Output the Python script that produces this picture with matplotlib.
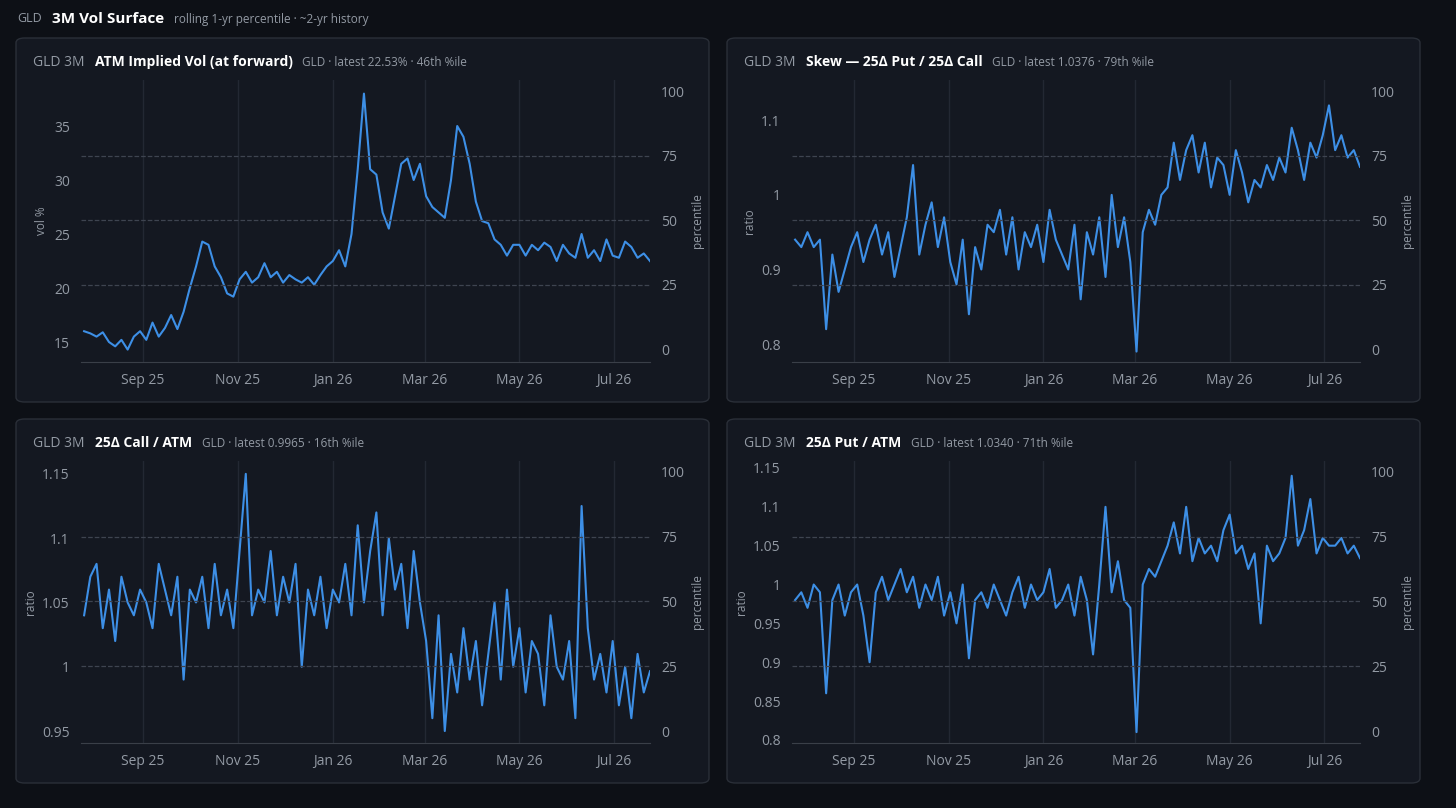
"""GLD 3M vol surface dashboard: four panels (ATM vol, skew, call wing, put wing)
each with a rolling 1-yr percentile scale on the right.
"""
import matplotlib
matplotlib.use("Agg")
import matplotlib.pyplot as plt  # noqa: E402
import matplotlib.dates as mdates  # noqa: E402
import pandas as pd  # noqa: E402
from matplotlib.patches import FancyBboxPatch  # noqa: E402

W, H = 1456, 808
BG = "#0d1016"
PANEL = "#141821"
EDGE = "#2a2f38"
LINE = "#3d8fe6"
TICK = "#939aa4"

START = "2025-07-25"  # 4-day sampling
ATM_VOL = [16, 15.8, 15.5, 15.9, 15, 14.6, 15.2, 14.3, 15.5, 16,
           15.2, 16.8, 15.5, 16.3, 17.5, 16.2, 17.8, 20,
           22, 24.3, 24, 22, 21, 19.5, 19.2, 20.8,
           21.5, 20.5, 21, 22.3, 21, 21.5, 20.5,
           21.2, 20.8, 20.5, 21, 20.3, 21.2, 22,
           22.5, 23.5, 22, 25, 31, 38, 31, 30.5,
           27, 25.5, 28.5, 31.5, 32, 30, 31.5,
           28.5, 27.5, 27, 26.5, 30, 35, 34,
           31.5, 28, 26.2, 26, 24.5, 24, 23, 24,
           24, 23, 24, 23.5, 24.2, 23.8, 22.5, 24,
           23.2, 22.8, 25, 22.8, 23.5, 22.5, 24.5, 23,
           22.8, 24.3, 23.8, 22.8, 23.2, 22.5]
SKEW = [0.94, 0.93, 0.95, 0.93, 0.94, 0.82, 0.92, 0.87, 0.90, 0.93,
        0.95, 0.91, 0.94, 0.96, 0.92, 0.95, 0.89, 0.93,
        0.97, 1.04, 0.92, 0.96, 0.99, 0.93, 0.97, 0.91,
        0.88, 0.94, 0.84, 0.93, 0.90, 0.96, 0.95,
        0.98, 0.92, 0.97, 0.90, 0.95, 0.93, 0.96,
        0.91, 0.98, 0.94, 0.92, 0.90, 0.96, 0.86, 0.95,
        0.92, 0.97, 0.89, 1.00, 0.93, 0.97, 0.91,
        0.79, 0.95, 0.98, 0.96, 1.00, 1.01, 1.07,
        1.02, 1.06, 1.08, 1.03, 1.07, 1.01, 1.05, 1.04,
        1.00, 1.06, 1.03, 0.99, 1.02, 1.01, 1.04, 1.02,
        1.05, 1.03, 1.09, 1.06, 1.02, 1.07, 1.05, 1.08,
        1.12, 1.06, 1.08, 1.05, 1.06, 1.0376]
CALL_ATM = [1.04, 1.07, 1.08, 1.03, 1.06, 1.02, 1.07, 1.05, 1.04, 1.06,
            1.05, 1.03, 1.08, 1.06, 1.04, 1.07, 0.99, 1.06,
            1.05, 1.07, 1.03, 1.08, 1.04, 1.06, 1.03, 1.09,
            1.15, 1.04, 1.06, 1.05, 1.09, 1.04, 1.07,
            1.05, 1.08, 1.00, 1.06, 1.04, 1.07, 1.03,
            1.06, 1.05, 1.08, 1.04, 1.11, 1.05, 1.09, 1.12,
            1.04, 1.10, 1.06, 1.08, 1.03, 1.09, 1.05,
            1.02, 0.96, 1.04, 0.95, 1.01, 0.98, 1.03,
            0.99, 1.02, 0.97, 1.01, 1.05, 0.99, 1.06, 1.00,
            1.03, 0.98, 1.02, 1.01, 0.97, 1.04, 1.00, 0.99,
            1.02, 0.96, 1.125, 1.03, 0.99, 1.01, 0.98, 1.02,
            0.97, 1.00, 0.96, 1.01, 0.98, 0.9965]
PUT_ATM = [0.98, 0.99, 0.97, 1.00, 0.99, 0.86, 0.98, 1.00, 0.96, 0.99,
           1.00, 0.96, 0.90, 0.99, 1.01, 0.98, 1.00, 1.02,
           0.99, 1.01, 0.97, 1.00, 0.98, 1.01, 0.96, 0.99,
           0.95, 1.00, 0.905, 0.98, 0.99, 0.97, 1.00,
           0.98, 0.96, 0.99, 1.01, 0.97, 1.00, 0.98,
           0.99, 1.02, 0.97, 0.98, 1.00, 0.96, 1.01, 0.98,
           0.91, 1.00, 1.10, 0.99, 1.03, 0.98, 0.97,
           0.81, 1.00, 1.02, 1.01, 1.03, 1.05, 1.08,
           1.04, 1.10, 1.03, 1.06, 1.04, 1.05, 1.03, 1.07,
           1.09, 1.04, 1.05, 1.02, 1.04, 0.95, 1.05, 1.03,
           1.04, 1.06, 1.14, 1.05, 1.07, 1.11, 1.04, 1.06,
           1.05, 1.05, 1.06, 1.04, 1.05, 1.034]

PANELS = [  # (values, title, subtitle, ylabel, yticks, ticklabels, ylim, pct_ylim, box, axes)
    (ATM_VOL, "ATM Implied Vol (at forward)", "GLD · latest 22.53% · 46th %ile", "vol %",
     [15, 20, 25, 30, 35], ["15", "20", "25", "30", "35"], (13.15, 39.26), (-5.0, 104.3),
     (16, 38, 693, 364), (81, 80, 569, 282)),
    (SKEW, "Skew — 25Δ Put / 25Δ Call", "GLD · latest 1.0376 · 79th %ile", "ratio",
     [0.8, 0.9, 1.0, 1.1], ["0.8", "0.9", "1", "1.1"], (0.776, 1.154), (-5.0, 104.3),
     (727, 38, 693, 364), (792, 80, 568, 282)),
    (CALL_ATM, "25Δ Call / ATM", "GLD · latest 0.9965 · 16th %ile", "ratio",
     [0.95, 1.0, 1.05, 1.1, 1.15], ["0.95", "1", "1.05", "1.1", "1.15"], (0.9407, 1.160), (-4.6, 104.2),
     (16, 419, 693, 364), (81, 461, 569, 282)),
    (PUT_ATM, "25Δ Put / ATM", "GLD · latest 1.0340 · 71th %ile", "ratio",
     [0.8, 0.85, 0.9, 0.95, 1.0, 1.05, 1.1, 1.15],
     ["0.8", "0.85", "0.9", "0.95", "1", "1.05", "1.1", "1.15"], (0.796, 1.159), (-4.6, 104.2),
     (727, 419, 693, 364), (792, 461, 568, 282)),
]


def fx(px):
    return px / W


def fy(py):
    return 1 - py / H


def text_row(fig, x, y, parts):
    """Place (text, size, color, weight) pieces left to right, starting at pixel x."""
    r = fig.canvas.get_renderer()
    for s, size, color, weight in parts:
        t = fig.text(fx(x), fy(y), s, fontsize=size, color=color, weight=weight, va="center")
        x += t.get_window_extent(renderer=r).width + 10


def panel(fig, vals, title, sub, ylabel, yticks, ylabels, ylim, pylim, box, rect):
    bx, by, bw, bh = box
    fig.patches.append(FancyBboxPatch((fx(bx), fy(by + bh)), fx(bw), bh / H,
                                      boxstyle="round,pad=0,rounding_size=0.006",
                                      transform=fig.transFigure, facecolor=PANEL,
                                      edgecolor=EDGE, lw=1, zorder=-5))
    text_row(fig, bx + 17, by + 24, [("GLD 3M", 10, TICK, "normal"),
                                     (title, 10, "white", "bold"),
                                     (sub, 8.5, TICK, "normal")])
    ax_x, ax_y, ax_w, ax_h = rect
    ax = fig.add_axes([fx(ax_x), fy(ax_y + ax_h), fx(ax_w), ax_h / H])
    ax.set_facecolor("none")
    dates = pd.date_range(START, periods=len(vals), freq="4D")
    ax.plot(dates, vals, color=LINE, lw=1.5, zorder=3)
    ax.set_xlim(pd.Timestamp("2025-07-23"), pd.Timestamp("2026-07-24"))
    ax.set_ylim(*ylim)
    ax.set_yticks(yticks, ylabels)
    ax.xaxis.set_major_locator(mdates.MonthLocator(bymonth=[9, 11, 1, 3, 5, 7]))
    ax.xaxis.set_major_formatter(mdates.DateFormatter("%b %y"))
    ax.grid(True, axis="x", color="#232833", lw=1)
    for s in ("top", "right", "left"):
        ax.spines[s].set_visible(False)
    ax.spines["bottom"].set_color("#3a3f48")
    ax.tick_params(colors=TICK, labelsize=10, length=0, pad=8)
    ax.set_ylabel(ylabel, color=TICK, fontsize=8.5)
    ax2 = ax.twinx()
    ax2.set_ylim(*pylim)
    ax2.set_yticks([0, 25, 50, 75, 100])
    for v in (25, 50, 75):
        ax2.axhline(v, color="#3e4450", ls="--", lw=0.9, zorder=1)
    for s in ax2.spines.values():
        s.set_visible(False)
    ax2.tick_params(colors=TICK, labelsize=10, length=0, pad=8)
    ax2.set_ylabel("percentile", color=TICK, fontsize=8.5)


def main():
    plt.rcParams["font.family"] = ["Open Sans", "DejaVu Sans"]
    fig = plt.figure(figsize=(W / 100, H / 100), dpi=100, facecolor=BG)
    fig.canvas.draw()
    text_row(fig, 17, 19, [("GLD", 9, TICK, "normal"),
                           ("3M Vol Surface", 11, "white", "bold"),
                           ("rolling 1-yr percentile · ~2-yr history", 8.5, TICK, "normal")])
    for p in PANELS:
        panel(fig, *p)
    fig.savefig("out.png", dpi=100, facecolor=BG)


if __name__ == "__main__":
    main()
